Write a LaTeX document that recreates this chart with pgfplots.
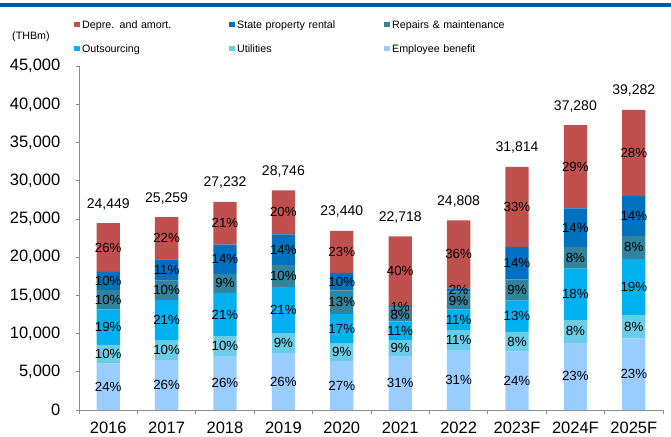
\documentclass[border=0pt]{standalone}
\usepackage{pgfplots}
\pgfplotsset{compat=1.18}
\usepackage{pgfplotstable}
\usepackage{fontspec}
\setmainfont{Liberation Sans}
\definecolor{cdep}{HTML}{C0504D}
\definecolor{crent}{HTML}{0070C0}
\definecolor{crep}{HTML}{31849B}
\definecolor{cout}{HTML}{00B0F0}
\definecolor{cutil}{HTML}{6ACDE5}
\definecolor{cemp}{HTML}{99CCFF}
\definecolor{axgray}{HTML}{8C8C8C}
\definecolor{topblue}{HTML}{0058A6}

\pgfplotstableread{
x emp pemp util putil out pout rep prep rent prent dep pdep tot totlab
0 6060 24 2480 10 4630 19 2530 10 2390 10 6359 26 24449 24,449
1 6567 26 2526 10 5304 21 2526 10 2778 11 5558 22 25259 25,259
2 7060 26 2600 10 5670 21 2490 9 3840 14 5572 21 27232 27,232
3 7474 26 2587 9 6037 21 2875 10 4024 14 5749 20 28746 28,746
4 6410 27 2270 9 3880 17 3100 13 2300 10 5480 23 23440 23,440
5 7043 31 2045 9 2499 11 1817 8 227 1 9087 40 22718 22,718
6 7850 31 2620 11 2700 11 2310 9 440 2 8888 36 24808 24,808
7 7630 24 2610 8 4060 13 2800 9 4260 14 10454 33 31814 31,814
8 8800 23 2970 8 6720 18 2870 8 5020 14 10900 29 37280 37,280
9 9330 23 3100 8 7360 19 3010 8 5230 14 11252 28 39282 39,282
}\datatable

\pgfplotsset{
  seg/.style={fill=#1, draw=none,
    point meta=explicit symbolic, nodes near coords={\pgfplotspointmeta\%},
    every node near coord/.style={anchor=center, inner sep=0pt,
      font=\fontsize{13.3}{15}\selectfont, text=black}},
  common/.style={
    at={(79pt,26pt)}, anchor=south west,
    x=58.4pt, y=0.00764444pt,
    xmin=-0.5, xmax=9.5, ymin=0, ymax=45000,
    enlargelimits=false, clip=false}
}

\begin{document}
\begin{tikzpicture}
\path[use as bounding box] (0,0) rectangle (671pt,436pt);
\fill[topblue] (0,429pt) rectangle (671pt,433pt);
\begin{axis}[
  common,
  ybar stacked, bar width=23.3pt,
  axis x line*=bottom, axis y line*=left,
  axis line style={axgray, line width=0.8pt},
  tick align=outside, major tick length=3.5pt,
  tick style={axgray, line width=0.8pt},
  xtick={-0.5,0.5,...,9.5}, x tick label as interval,
  xticklabels={2016,2017,2018,2019,2020,2021,2022,2023F,2024F,2025F},
  ytick={0,5000,...,45000},
  scaled y ticks=false,
  /pgf/number format/assume math mode=true,
  /pgf/number format/fixed,
  /pgf/number format/1000 sep={,},
  tick label style={font=\fontsize{16.5}{19}\selectfont, text=black},
  yticklabel style={inner xsep=0pt, xshift=-15pt},
  xticklabel style={inner ysep=0pt, yshift=-8pt},
  reverse legend,
  legend columns=3,
  legend cell align=left,
  legend style={draw=none, fill=none, at={(rel axis cs:-0.0086,1.1342)}, anchor=north west,
    font=\fontsize{10.7}{12}\selectfont, column sep=0pt, row sep=13.5pt, inner sep=0pt,
    nodes={inner sep=0pt, text width=147pt, text height=8pt, text depth=2.5pt, align=left},
    /tikz/every odd column/.append style={column sep=2.5pt}},
  legend image code/.code={\fill[#1,draw=none] (0pt,-1.6pt) rectangle (5.5pt,3.9pt);},
]
\addplot[seg=cemp] table[x=x, y=emp, meta=pemp] {\datatable};
\addplot[seg=cutil] table[x=x, y=util, meta=putil] {\datatable};
\addplot[seg=cout] table[x=x, y=out, meta=pout] {\datatable};
\addplot[seg=crep] table[x=x, y=rep, meta=prep] {\datatable};
\addplot[seg=crent] table[x=x, y=rent, meta=prent] {\datatable};
\addplot[seg=cdep] table[x=x, y=dep, meta=pdep] {\datatable};
\legend{Employee benefit, Utilities, Outsourcing, Repairs \& maintenance, State property rental, Depre. and amort.}
\end{axis}
% totals above the bars (same geometry, unstacked)
\begin{axis}[common, hide axis]
\addplot[sharp plot, draw=none, mark=none, point meta=explicit symbolic,
  nodes near coords={\pgfplotspointmeta},
  every node near coord/.style={anchor=center, inner sep=0pt, yshift=19pt,
    font=\fontsize{14}{16}\selectfont, text=black}] table[x=x, y=tot, meta=totlab] {\datatable};
\end{axis}
\node[anchor=west, inner sep=0pt, font=\fontsize{10.7}{12}\selectfont] at (12pt,399.3pt) {(THBm)};
\end{tikzpicture}
\end{document}
